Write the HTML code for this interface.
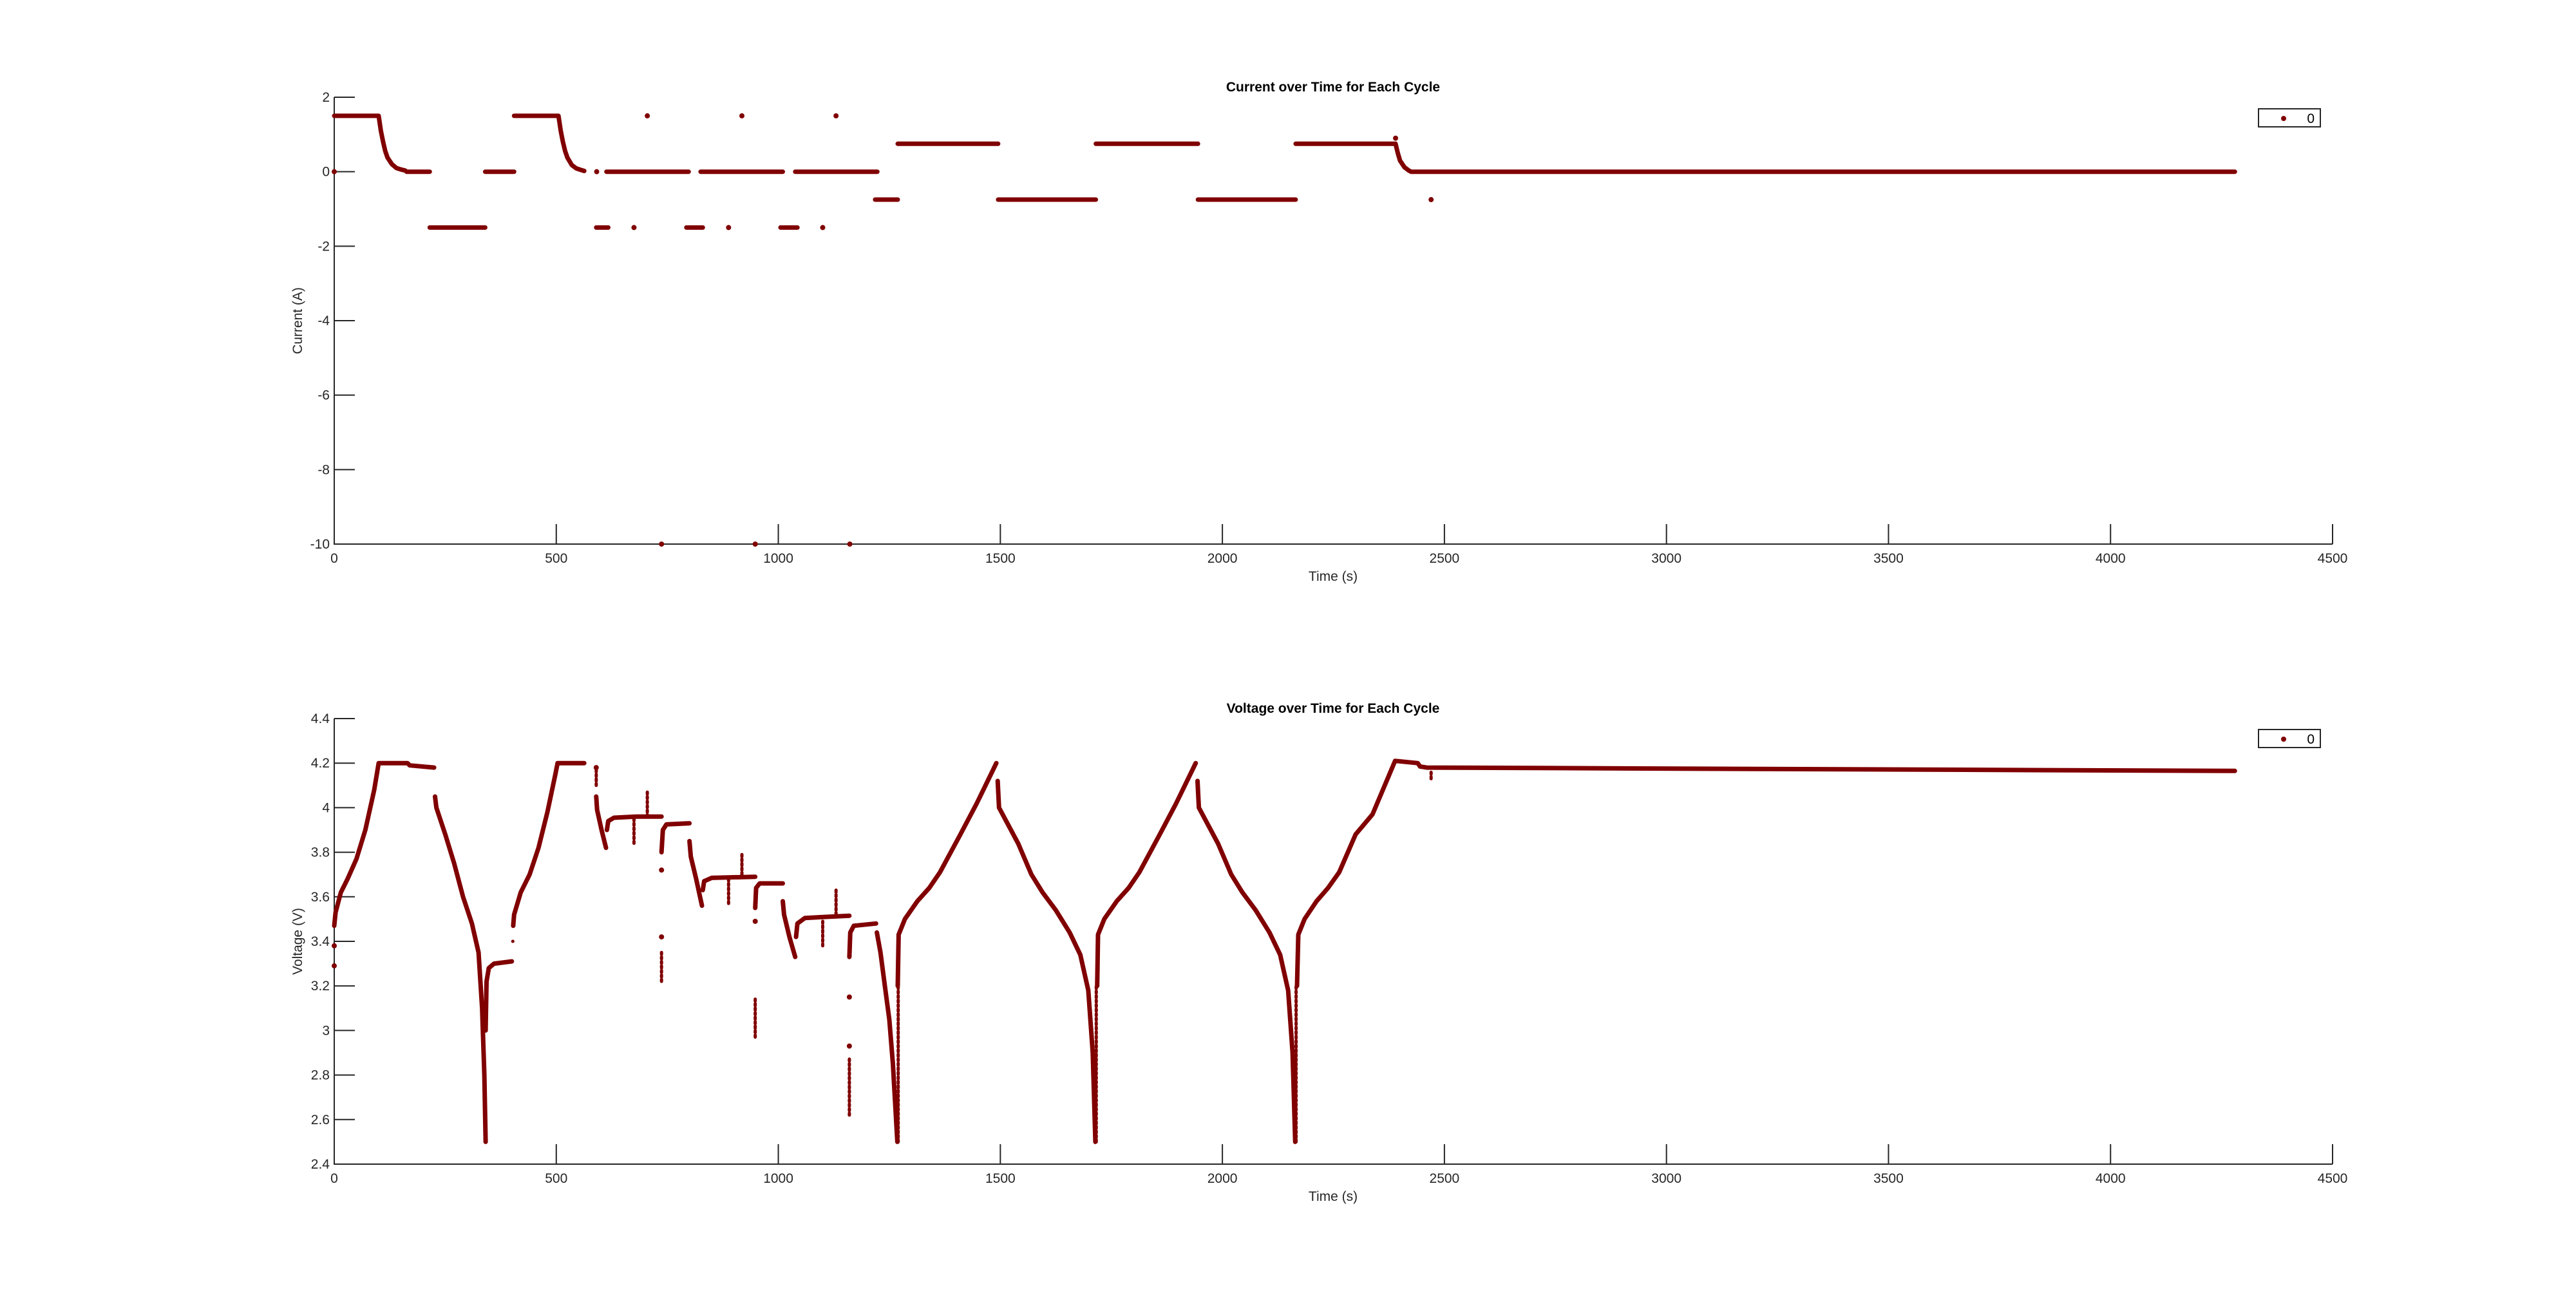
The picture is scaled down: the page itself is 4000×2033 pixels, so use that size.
<!DOCTYPE html>
<html><head><meta charset="utf-8"><style>
html,body{margin:0;padding:0;background:#fff;}
svg{display:block;font-family:"Liberation Sans",Arial,sans-serif;}
</style></head><body>
<svg id="fig" width="4000" height="2033" viewBox="0 0 4000 2033" xmlns="http://www.w3.org/2000/svg">
<rect width="4000" height="2033" fill="#fff"/>
<g id="top"></g>
<g id="bot"></g>
</svg>
<script>
// ---------- data: current ----------
const xTicks = [0,500,1000,1500,2000,2500,3000,3500,4000,4500];
const curTicks = [2,0,-2,-4,-6,-8,-10];
const voltTicks = [4.4,4.2,4,3.8,3.6,3.4,3.2,3,2.8,2.6,2.4];
const curSegT = [
 [0,100,105,110,115,120,130,140,150,160,163,215],
 [215,340],[340,405],
 [405,505,510,515,520,525,535,545,555,563],
 [590,617],[613,798],[793,830],[825,1010],[1005,1043],[1038,1223],
 [1218,1269],[1269,1495],[1495,1715],[1715,1945],[1945,2165],
 [2165,2390,2395,2400,2410,2420,2425,4280]
];
const curSegV = [
 [1.5,1.5,1.1,0.8,0.55,0.38,0.2,0.1,0.06,0.03,0,0],
 [-1.5,-1.5],[0,0],
 [1.5,1.5,1.1,0.8,0.55,0.38,0.18,0.09,0.05,0.02],
 [-1.5,-1.5],[0,0],[-1.5,-1.5],[0,0],[-1.5,-1.5],[0,0],
 [-0.75,-0.75],[0.75,0.75],[-0.75,-0.75],[0.75,0.75],[-0.75,-0.75],
 [0.75,0.75,0.5,0.3,0.12,0.03,0,0]
];
const curDotT = [0,591,705,918,1130,675,888,1100,737,948,1161,2470,2390];
const curDotV = [0,0,1.5,1.5,1.5,-1.5,-1.5,-1.5,-10,-10,-10,-0.75,0.9];
// ---------- data: voltage ----------
const volSegT = [
 [0,3,15,30,50,70,90,100,165,170,225],
 [227,230,250,270,290,310,325,333,338,341],
 [341,343,348,360,400],
 [403,405,420,440,460,480,498,503,563],
 [590,592,602,612],
 [614,617,630,680,737],
 [737,740,748,800],
 [800,803,815,828],
 [830,833,850,948],
 [948,950,958,1010],
 [1010,1013,1025,1038],
 [1040,1043,1060,1160],
 [1160,1162,1170,1220],
 [1222,1230,1240,1250,1258,1268],
 [1269,1271,1285,1313,1340,1364,1410,1447,1491],
 [1494,1497,1540,1570,1595,1625,1656,1680,1698,1708,1714],
 [1718,1720,1734,1762,1789,1813,1859,1896,1940],
 [1944,1947,1990,2020,2045,2075,2106,2130,2148,2158,2164],
 [2168,2171,2185,2212,2238,2263,2300,2338,2389,2440,2445,2460,4280]
];
const volSegV = [
 [3.47,3.53,3.62,3.68,3.77,3.9,4.08,4.2,4.2,4.19,4.18],
 [4.05,4.0,3.88,3.75,3.6,3.48,3.35,3.1,2.8,2.5],
 [3.0,3.22,3.28,3.3,3.31],
 [3.47,3.52,3.62,3.7,3.82,3.98,4.15,4.2,4.2],
 [4.05,3.99,3.9,3.82],
 [3.9,3.94,3.955,3.96,3.96],
 [3.8,3.9,3.925,3.93],
 [3.85,3.78,3.68,3.56],
 [3.63,3.67,3.685,3.69],
 [3.55,3.64,3.66,3.66],
 [3.58,3.52,3.42,3.33],
 [3.42,3.48,3.505,3.515],
 [3.33,3.44,3.47,3.48],
 [3.44,3.35,3.2,3.05,2.85,2.5],
 [3.2,3.43,3.5,3.58,3.64,3.71,3.88,4.02,4.2],
 [4.12,4.0,3.84,3.7,3.62,3.54,3.44,3.34,3.18,2.9,2.5],
 [3.2,3.43,3.5,3.58,3.64,3.71,3.88,4.02,4.2],
 [4.12,4.0,3.84,3.7,3.62,3.54,3.44,3.34,3.18,2.9,2.5],
 [3.2,3.43,3.5,3.58,3.64,3.71,3.88,3.97,4.21,4.2,4.185,4.18,4.165]
];
const spikeT = [675,705,737,888,918,948,1100,1130,1160,402,1270,1716,2166,2470,590];
const spikeLo = [3.84,3.96,3.22,3.57,3.7,2.97,3.38,3.52,2.62,3.40,2.5,2.5,2.5,4.13,4.1];
const spikeHi = [3.95,4.07,3.36,3.68,3.8,3.15,3.5,3.63,2.88,3.40,3.2,3.2,3.2,4.17,4.18];
const volDotT = [0,0,737,737,948,1160,1160,590];
const volDotV = [3.38,3.29,3.42,3.72,3.49,2.93,3.15,4.18];

const NS='http://www.w3.org/2000/svg';
const RED='#800000';
function mk(tag,parent,attrs){const e=document.createElementNS(NS,tag);for(const k in attrs)e.setAttribute(k,attrs[k]);parent.appendChild(e);return e;}
const X0=519,X1=3622;
function xs(t){return X0+(t-0)/(4500)*(X1-X0);}

function axes(g,yTicks,yMin,yMax,Y0,Y1,ylabel,title,titleY,legY,prefix){
  const ys=v=>Y1-(v-yMin)/(yMax-yMin)*(Y1-Y0);
  const ax=mk('path',g,{d:`M${X0} ${Y0}V${Y1}H${X1}`,stroke:'#262626','stroke-width':2,fill:'none'});
  
  
  xTicks.forEach(t=>{
    const x=xs(t);
    const tk=mk('line',g,{x1:x,x2:x,y1:Y1,y2:Y1-31,stroke:'#262626','stroke-width':2});
    
    
    const tl=mk('text',g,{x:x,y:Y1+29,'font-size':21,'text-anchor':'middle',fill:'#262626'});
    tl.textContent=t;
    
    
  });
  yTicks.forEach(v=>{
    const y=ys(v);
    const tk=mk('line',g,{x1:X0,x2:X0+32,y1:y,y2:y,stroke:'#262626','stroke-width':2});
    
    
    const tl=mk('text',g,{x:X0-7,y:y+7,'font-size':21,'text-anchor':'end',fill:'#262626'});
    tl.textContent=String(v);
    
    
  });
  const xl=mk('text',g,{x:2070,y:Y1+57,'font-size':21,'text-anchor':'middle',fill:'#262626'});
  xl.textContent='Time (s)';
  
  
  const cy=(Y0+Y1)/2;
  const yl=mk('text',g,{x:469,y:cy,'font-size':21,'text-anchor':'middle',fill:'#262626',transform:`rotate(-90 469 ${cy})`});
  yl.textContent=ylabel;
  
  
  const ti=mk('text',g,{x:2070,y:titleY,'font-size':21,'font-weight':'bold','text-anchor':'middle',fill:'#000'});
  ti.textContent=title;
  
  
  const lg=mk('g',g,{});
  
  
  mk('rect',lg,{x:3507,y:legY,width:96,height:28,fill:'#fff',stroke:'#262626','stroke-width':2});
  mk('circle',lg,{cx:3546,cy:legY+15,r:4,fill:RED});
  const lt=mk('text',lg,{x:3594,y:legY+22,'font-size':21,'text-anchor':'end',fill:'#000'});
  lt.textContent='0';
  
  
  return ys;
}

// top chart
const gt=document.getElementById('top');
const ysC=axes(gt,curTicks,-10,2,151,845,'Current (A)','Current over Time for Each Cycle',142,169,'current');
curSegT.forEach((ts,i)=>{
  const pts=ts.map((t,j)=>xs(t).toFixed(1)+','+ysC(curSegV[i][j]).toFixed(1)).join(' ');
  const pl=mk('polyline',gt,{points:pts,fill:'none',stroke:RED,'stroke-width':7,'stroke-linecap':'round','stroke-linejoin':'round'});
  
  
});
curDotT.forEach((t,i)=>{
  const c=mk('circle',gt,{cx:xs(t),cy:ysC(curDotV[i]),r:4,fill:RED});
  
  
});

// bottom chart
const gb=document.getElementById('bot');
const ysV=axes(gb,voltTicks,2.4,4.4,1116,1808,'Voltage (V)','Voltage over Time for Each Cycle',1107,1133,'voltage');
volSegT.forEach((ts,i)=>{
  const pts=ts.map((t,j)=>xs(t).toFixed(1)+','+ysV(volSegV[i][j]).toFixed(1)).join(' ');
  const pl=mk('polyline',gb,{points:pts,fill:'none',stroke:RED,'stroke-width':7,'stroke-linecap':'round','stroke-linejoin':'round'});
  
  
});
spikeT.forEach((t,i)=>{
  const ln=mk('line',gb,{x1:xs(t),x2:xs(t),y1:ysV(spikeLo[i]),y2:ysV(spikeHi[i]),stroke:RED,'stroke-width':5,'stroke-linecap':'round','stroke-dasharray':'3 4'});
  
  
});
volDotT.forEach((t,i)=>{
  const c=mk('circle',gb,{cx:xs(t),cy:ysV(volDotV[i]),r:4,fill:RED});
  
  
});
</script>
</body></html>
